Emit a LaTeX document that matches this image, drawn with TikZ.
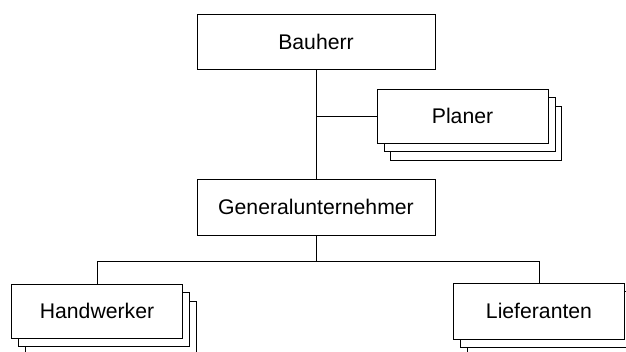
\documentclass[tikz,border=0pt]{standalone}
\usepackage{fontspec}
\setmainfont{Liberation Sans}
\usetikzlibrary{calc}
\usetikzlibrary{shadows}

\begin{document}
\begin{tikzpicture}[x=1pt, y=-1pt, line width=1pt,
  box/.style={draw, fill=white, inner sep=0pt, minimum height=55pt, font=\fontsize{21.2}{25}\selectfont},
  wide/.style={box, minimum width=238pt},
  narrow/.style={box, minimum width=171pt},
  stack/.style={copy shadow={shadow xshift=13.5pt, shadow yshift=-17pt, fill=white, draw=black, opacity=1},
                copy shadow={shadow xshift=7pt, shadow yshift=-8.5pt, fill=white, draw=black, opacity=1}},
  level 1/.style={level distance=165pt},
  level 2/.style={level distance=104pt, sibling distance=442pt,
    edge from parent path={(\tikzparentnode.south) -- ++(0,26) -| (\tikzchildnode.north)}}]
  \useasboundingbox (0,0) rectangle (626,351);
  \node[wide] (bauherr) at (316,42) {Bauherr}
   child{
    node[wide, minimum height=56pt] (gu) {Generalunternehmer}
     child{
      node[narrow, stack, minimum height=54pt, xshift=2pt] (handwerker) {Handwerker}
     }
     child{
      node[narrow, stack, minimum height=56pt, xshift=2pt] (lieferanten) {Lieferanten}
     }
   }
;
\node[narrow, stack, minimum height=54pt] (planer) at (462.5,116) {Planer};
\draw (bauherr.south |- planer.west) -- (planer.west);
\end{tikzpicture}
\end{document}
